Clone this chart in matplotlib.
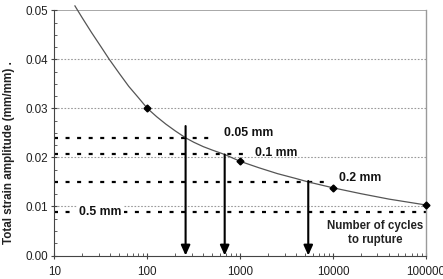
import matplotlib
matplotlib.use("Agg")
import matplotlib.pyplot as plt
from matplotlib.ticker import FixedLocator, NullFormatter, LogLocator

plt.rcParams['font.family'] = ['Liberation Sans', 'DejaVu Sans']

# Fatigue curve
curve_N = [16.6, 20, 25, 31.6, 38.9, 50, 63, 80, 100, 126, 158, 200, 258, 316, 400,
           500, 680, 1000, 1585, 2512, 3981, 5400, 10000, 20000, 40000, 100000]
curve_eps = [0.0509, 0.0484, 0.0455, 0.0426, 0.0400, 0.0371, 0.0345, 0.0322, 0.0300,
             0.0283, 0.0268, 0.0254, 0.0240, 0.0231, 0.0222, 0.0215, 0.0206, 0.0192,
             0.0179, 0.0167, 0.0157, 0.0150, 0.0138, 0.0126, 0.0115, 0.0103]

# Measured points
pts_N = [100, 1000, 10000, 100000]
pts_eps = [0.0300, 0.0192, 0.0138, 0.0103]

# Strain levels for each amplitude
level_labels = ["0.05 mm", "0.1 mm", "0.2 mm", "0.5 mm"]
level_eps = [0.0240, 0.0206, 0.0149, 0.0089]
level_end = [508, 1180, 8000, 100000]

# Arrows (cycles to rupture)
arrow_N = [258, 680, 5400]
arrow_top = [0.0264, 0.0206, 0.0152]

x_ticks = [10, 100, 1000, 10000, 100000]
x_ticklabels = ["10", "100", "1000", "10000", "100000"]
y_ticks = [0.00, 0.01, 0.02, 0.03, 0.04, 0.05]

fig = plt.figure(figsize=(4.43, 2.79), dpi=100)
ax = fig.add_axes([0.123, 0.0842, 0.8386, 0.8788])
ax.set_xscale('log')
ax.set_xlim(10, 100000)
ax.set_ylim(0, 0.05)

# gridlines
for y in y_ticks[1:-1]:
    ax.axhline(y, color='#9a9a9a', lw=0.8, ls=(0, (1.5, 1.5)), zorder=1)
ax.axhline(0.05, color='#9a9a9a', lw=1.2, zorder=1)

# dashed level lines
for e, xe in zip(level_eps, level_end):
    ax.plot([10, xe], [e, e], color='black', lw=1.6, ls=(0, (1.8, 3.4)),
            solid_capstyle='butt', dash_capstyle='butt', zorder=2)

# curve
ax.plot(curve_N, curve_eps, color='#555555', lw=0.9, zorder=3, clip_on=False)
ax.plot(pts_N, pts_eps, ls='none', marker='D', ms=3.5, color='black', zorder=4, clip_on=False)

# arrows
for xn, yt in zip(arrow_N, arrow_top):
    ax.annotate('', xy=(xn, 0.0), xytext=(xn, yt),
                arrowprops=dict(arrowstyle='-|>,head_length=0.6,head_width=0.27',
                                color='black', lw=1.5, shrinkA=0, shrinkB=0),
                zorder=5)

# labels
fs = 8.8
ax.text(668, 0.0250, level_labels[0], fontsize=fs, fontweight='bold', va='center', ha='left',
        color='#111111')
ax.text(1440, 0.0209, level_labels[1], fontsize=fs, fontweight='bold', va='center', ha='left',
        color='#111111')
ax.text(11500, 0.0158, level_labels[2], fontsize=fs, fontweight='bold', va='center', ha='left',
        color='#111111')
ax.text(18.5, level_eps[3], level_labels[3], fontsize=fs, fontweight='bold', va='center', ha='left',
        color='#111111', bbox=dict(facecolor='white', edgecolor='none', pad=1.5), zorder=6)
ax.text(28200, 0.0046, "Number of cycles\nto rupture", fontsize=8.3, fontweight='bold',
        va='center', ha='center', linespacing=1.2, color='#222222')

# ticks
ax.xaxis.set_major_locator(FixedLocator(x_ticks))
ax.set_xticklabels(x_ticklabels)
ax.xaxis.set_minor_locator(LogLocator(base=10, subs=range(2, 10)))
ax.xaxis.set_minor_formatter(NullFormatter())
ax.set_yticks(y_ticks)
ax.set_yticklabels([f"{v:.2f}" for v in y_ticks])
ax.yaxis.set_minor_locator(FixedLocator([i * 0.0025 for i in range(21)]))
ax.tick_params(axis='both', which='major', direction='inout', length=5, width=0.8,
               color='#444444', labelsize=8.4, labelcolor='#222222', pad=2)
ax.tick_params(axis='both', which='minor', direction='in', length=2.5, width=0.6,
               color='#444444')
ax.tick_params(axis='x', which='major', pad=5)

ax.set_ylabel("Total strain amplitude (mm/mm) .", fontsize=8.4, fontweight='bold',
              color='#222222')
ax.yaxis.set_label_coords(-0.105, 0.418)

for s in ['left', 'bottom']:
    ax.spines[s].set_color('#444444')
    ax.spines[s].set_linewidth(0.8)
ax.spines['right'].set_color('#9a9a9a')
ax.spines['right'].set_linewidth(1.0)
ax.spines['top'].set_visible(False)

fig.savefig("out.png", dpi=100)
